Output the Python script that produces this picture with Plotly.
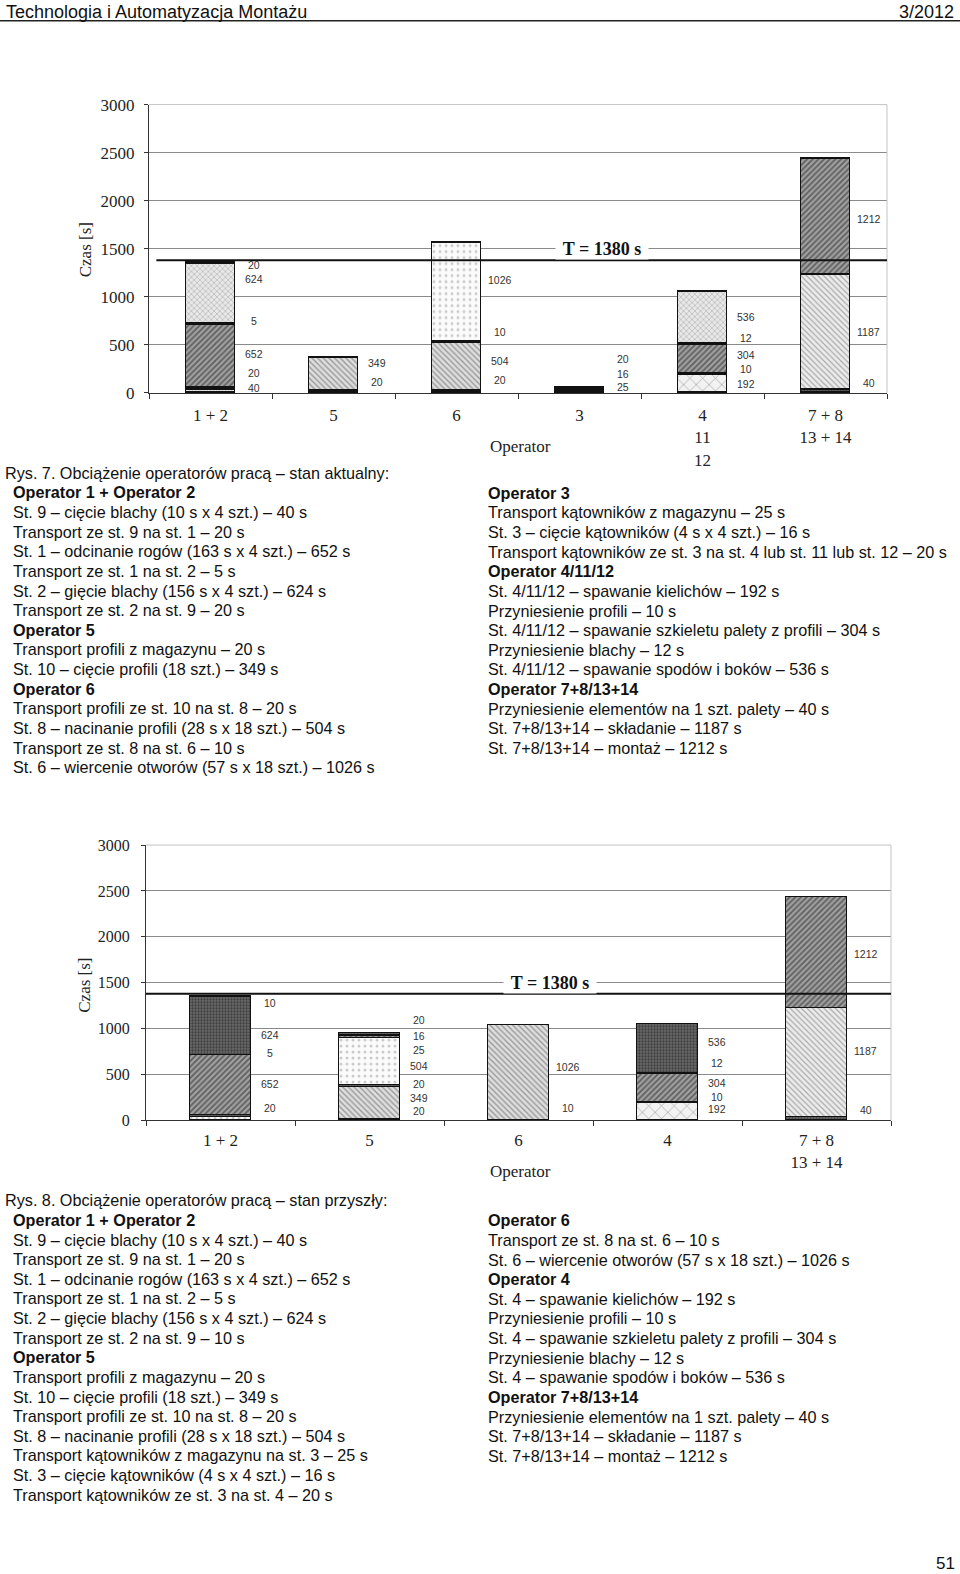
import plotly.graph_objects as go

W, H = 960, 1574
# the photographed page shows vertical positions as 8.2 + 0.99 * y; layout positions below are
# given in reference-page pixels and converted through py()
Y_OFF, Y_SCALE = 8.2, 0.99

# ---------------- DATA ----------------
# Rys. 7 - stan aktualny
f7_categories = ["1 + 2", "5", "6", "3", "4<br>11<br>12", "7 + 8<br>13 + 14"]
f7_op12 = [40, 20, 652, 5, 624, 20]
f7_op5 = [20, 349]
f7_op6 = [20, 504, 10, 1026]
f7_op3 = [25, 16, 20]
f7_op4 = [192, 10, 304, 12, 536]
f7_op78 = [40, 1187, 1212]

# Rys. 8 - stan przyszły
f8_categories = ["1 + 2", "5", "6", "4", "7 + 8<br>13 + 14"]
f8_op12 = [40, 20, 652, 5, 624, 10]
f8_op5 = [20, 349, 20, 504, 25, 16, 20]
f8_op6 = [10, 1026]
f8_op4 = [192, 10, 304, 12, 536]
f8_op78 = [40, 1187, 1212]

takt_time = 1380
y_ticks = [0, 500, 1000, 1500, 2000, 2500, 3000]

# ---------------- STYLES / LABEL PLACEMENT ----------------
STYLES = {
    "black": dict(shape="", fgcolor="#111111", bgcolor="#111111", size=4, solidity=0.5),
    "dots_dark": dict(shape=".", fgcolor="#111111", bgcolor="#6a6a6a", size=3, solidity=0.45),
    "hatch_dark": dict(shape="/", fgcolor="#1e1e1e", bgcolor="#a0a0a0", size=4, solidity=0.45),
    "hatch_mid": dict(shape="\\", fgcolor="#555555", bgcolor="#dedede", size=4, solidity=0.35),
    "hatch_light": dict(shape="\\", fgcolor="#666666", bgcolor="#ececec", size=4, solidity=0.3),
    "wavy": dict(shape="x", fgcolor="#7a7a7a", bgcolor="#e8e8e8", size=4, solidity=0.3),
    "dots_light": dict(shape=".", fgcolor="#9a9a9a", bgcolor="#fbfbfb", size=6, solidity=0.2),
    "mesh": dict(shape="x", fgcolor="#555555", bgcolor="#f2f2f2", size=9, solidity=0.15),
    "grid_light": dict(shape="+", fgcolor="#888888", bgcolor="#f0f0f0", size=3, solidity=0.3),
}

f7_styles = [
    ["grid_light", "dots_dark", "hatch_dark", "black", "wavy", "dots_dark"],
    ["black", "hatch_mid"],
    ["black", "hatch_mid", "black", "dots_light"],
    ["hatch_dark", "black", "dots_dark"],
    ["mesh", "black", "hatch_dark", "black", "wavy"],
    ["dots_dark", "hatch_light", "hatch_dark"],
]
f8_styles = [
    ["dots_light", "dots_dark", "hatch_dark", "black", "dots_dark", "dots_dark"],
    ["black", "hatch_mid", "dots_dark", "dots_light", "hatch_dark", "black", "dots_dark"],
    ["black", "hatch_mid"],
    ["mesh", "black", "hatch_dark", "black", "dots_dark"],
    ["dots_dark", "hatch_light", "hatch_dark"],
]

# vertical placement of the value labels (in axis units), bottom -> top
f7_label_y = [
    [52, 208, 405, 747, 1183, 1329],
    [114, 311],
    [135, 332, 633, 1173],
    [62, 197, 353],
    [93, 249, 394, 571, 789],
    [104, 633, 1806],
]
f8_label_y = [
    [-120, 141, 402, 739, 935, 1283],
    [98, 250, 402, 598, 772, 924, 1098],
    [141, 587],
    [120, 261, 413, 630, 859],
    [109, 761, 1815],
]

SERIF = "Liberation Serif, Times New Roman, serif"
SANS = "Liberation Sans, Arial, sans-serif"


def px(x):
    return x / W


def py(y):
    return 1 - ((y - Y_OFF) / Y_SCALE) / H


fig = go.Figure()


def add_chart(cats, groups, styles, label_y, xa, ya, bar_w, lbl_dx):
    for i, (cat, vals, sty) in enumerate(zip(cats, groups, styles)):
        for v, s in zip(vals, sty):
            fig.add_trace(go.Bar(
                x=[cat], y=[v], xaxis=xa, yaxis=ya, width=bar_w,
                marker=dict(color=STYLES[s]["bgcolor"], pattern=STYLES[s],
                            line=dict(color="#111111", width=1.3)),
                showlegend=False, hoverinfo="skip"))
        for v, ly in zip(vals, label_y[i]):
            fig.add_annotation(x=i + lbl_dx, y=ly, xref=xa, yref=ya, text=str(v),
                               showarrow=False, font=dict(family=SANS, size=10.5, color="#333333"),
                               xanchor="center", yanchor="middle")


groups7 = [f7_op12, f7_op5, f7_op6, f7_op3, f7_op4, f7_op78]
groups8 = [f8_op12, f8_op5, f8_op6, f8_op4, f8_op78]
add_chart(f7_categories, groups7, f7_styles, f7_label_y, "x", "y", 0.4, 0.35)
add_chart(f8_categories, groups8, f8_styles, f8_label_y, "x2", "y2", 0.41, 0.33)

axis_common_x = dict(type="category", showline=True, linecolor="#333333", linewidth=1,
                     ticks="outside", tickson="boundaries", ticklen=5, tickcolor="#333333",
                     showgrid=False, zeroline=False,
                     tickfont=dict(family=SERIF, size=17, color="#222222"))
axis_common_y = dict(range=[0, 3000], tickvals=y_ticks, showline=True, linecolor="#333333",
                     linewidth=1, ticks="outside", ticklen=4, tickcolor="#333333",
                     showgrid=True, gridcolor="#8a8a8a", gridwidth=1, zeroline=False,
                     tickfont=dict(family=SERIF, size=17, color="#222222"))

fig.update_layout(
    width=W, height=H, margin=dict(l=0, r=0, t=0, b=0),
    paper_bgcolor="white", plot_bgcolor="white", barmode="stack", bargap=0,
    xaxis=dict(axis_common_x, domain=[px(149), px(887)], anchor="y",
               categoryorder="array", categoryarray=f7_categories,
               range=[-0.5, len(f7_categories) - 0.5], ticklabelstandoff=7),
    yaxis=dict(axis_common_y, domain=[py(393), py(104)], anchor="x",
               ticklabelstandoff=6),
    xaxis2=dict(axis_common_x, domain=[px(146), px(891)], anchor="y2",
                categoryorder="array", categoryarray=f8_categories,
                range=[-0.5, len(f8_categories) - 0.5], ticklabelstandoff=4),
    yaxis2=dict(axis_common_y, domain=[py(1122), py(846)], anchor="x2",
                ticklabelstandoff=8, tickfont=dict(family=SERIF, size=16, color="#222222")),
)

# frame details, takt line and its label for both charts
for xa, ya, x0, tx in (("x", "y", 0.01, 3.18), ("x2", "y2", 0.0, 2.21)):
    fig.add_shape(type="line", xref=f"{xa} domain", yref=f"{ya} domain",
                  x0=1, x1=1, y0=0, y1=1, line=dict(color="#c4c4c4", width=1))
    fig.add_shape(type="line", xref=f"{xa} domain", yref=f"{ya} domain",
                  x0=0, x1=1, y0=1, y1=1, line=dict(color="#c4c4c4", width=1))
    fig.add_shape(type="line", xref=f"{xa} domain", yref=ya, x0=x0, x1=1,
                  y0=takt_time, y1=takt_time, layer="above",
                  line=dict(color="#111111", width=2))
    fig.add_annotation(x=tx, y=1500, xref=xa, yref=ya, text=f"<b>T = {takt_time} s</b>",
                       showarrow=False, bgcolor="white", width=92, borderpad=0,
                       xanchor="center", yanchor="middle",
                       font=dict(family=SERIF, size=18, color="#111111"))


def paper_text(x_px, y_px, text, font, xanchor="center", angle=0):
    fig.add_annotation(x=px(x_px), y=py(y_px), xref="paper", yref="paper",
                       xanchor=xanchor, yanchor="middle", text=text, textangle=angle,
                       showarrow=False, font=font)


# axis titles
for yy_czas, yy_op in ((250, 447), (987, 1173)):
    paper_text(85, yy_czas, "Czas [s]", dict(family=SERIF, size=17, color="#222222"), angle=-90)
    paper_text(520, yy_op, "Operator", dict(family=SERIF, size=17, color="#222222"))

# header / footer
HEAD_FONT = dict(family="Liberation Sans Narrow, Arial Narrow, Liberation Sans", size=18, color="#111111")
paper_text(4, 11, "Technologia i Automatyzacja Montażu", HEAD_FONT, xanchor="left")
paper_text(956, 11, "3/2012", HEAD_FONT, xanchor="right")
fig.add_shape(type="line", xref="paper", yref="paper", x0=0, x1=1,
              y0=py(20), y1=py(20), line=dict(color="#222222", width=1.5))
paper_text(945, 1566, "51", dict(family=SANS, size=17, color="#111111"))

# ---------------- TEXT BLOCKS ----------------
B = "**"
txt7_left = [
    "Rys. 7. Obciążenie operatorów pracą – stan aktualny:",
    B + "Operator 1 + Operator 2",
    "St. 9 – cięcie blachy (10 s x 4 szt.) – 40 s",
    "Transport ze st. 9 na st. 1 – 20 s",
    "St. 1 – odcinanie rogów (163 s x 4 szt.) – 652 s",
    "Transport ze st. 1 na st. 2 – 5 s",
    "St. 2 – gięcie blachy (156 s x 4 szt.) – 624 s",
    "Transport ze st. 2 na st. 9 – 20 s",
    B + "Operator 5",
    "Transport profili z magazynu – 20 s",
    "St. 10 – cięcie profili (18 szt.) – 349 s",
    B + "Operator 6",
    "Transport profili ze st. 10 na st. 8 – 20 s",
    "St. 8 – nacinanie profili (28 s x 18 szt.) – 504 s",
    "Transport ze st. 8 na st. 6 – 10 s",
    "St. 6 – wiercenie otworów (57 s x 18 szt.) – 1026 s",
]
txt7_right = [
    B + "Operator 3",
    "Transport kątowników z magazynu – 25 s",
    "St. 3 – cięcie kątowników (4 s x 4 szt.) – 16 s",
    "Transport kątowników ze st. 3 na st. 4 lub st. 11 lub st. 12 – 20 s",
    B + "Operator 4/11/12",
    "St. 4/11/12 – spawanie kielichów – 192 s",
    "Przyniesienie profili – 10 s",
    "St. 4/11/12 – spawanie szkieletu palety z profili – 304 s",
    "Przyniesienie blachy – 12 s",
    "St. 4/11/12 – spawanie spodów i boków – 536 s",
    B + "Operator 7+8/13+14",
    "Przyniesienie elementów na 1 szt. palety – 40 s",
    "St. 7+8/13+14 – składanie – 1187 s",
    "St. 7+8/13+14 – montaż – 1212 s",
]
txt8_left = [
    "Rys. 8. Obciążenie operatorów pracą – stan przyszły:",
    B + "Operator 1 + Operator 2",
    "St. 9 – cięcie blachy (10 s x 4 szt.) – 40 s",
    "Transport ze st. 9 na st. 1 – 20 s",
    "St. 1 – odcinanie rogów (163 s x 4 szt.) – 652 s",
    "Transport ze st. 1 na st. 2 – 5 s",
    "St. 2 – gięcie blachy (156 s x 4 szt.) – 624 s",
    "Transport ze st. 2 na st. 9 – 10 s",
    B + "Operator 5",
    "Transport profili z magazynu – 20 s",
    "St. 10 – cięcie profili (18 szt.) – 349 s",
    "Transport profili ze st. 10 na st. 8 – 20 s",
    "St. 8 – nacinanie profili (28 s x 18 szt.) – 504 s",
    "Transport kątowników z magazynu na st. 3 – 25 s",
    "St. 3 – cięcie kątowników (4 s x 4 szt.) – 16 s",
    "Transport kątowników ze st. 3 na st. 4 – 20 s",
]
txt8_right = [
    B + "Operator 6",
    "Transport ze st. 8 na st. 6 – 10 s",
    "St. 6 – wiercenie otworów (57 s x 18 szt.) – 1026 s",
    B + "Operator 4",
    "St. 4 – spawanie kielichów – 192 s",
    "Przyniesienie profili – 10 s",
    "St. 4 – spawanie szkieletu palety z profili – 304 s",
    "Przyniesienie blachy – 12 s",
    "St. 4 – spawanie spodów i boków – 536 s",
    B + "Operator 7+8/13+14",
    "Przyniesienie elementów na 1 szt. palety – 40 s",
    "St. 7+8/13+14 – składanie – 1187 s",
    "St. 7+8/13+14 – montaż – 1212 s",
]

LINE_H = 19.67
BODY_FONT = dict(family=SANS, size=16.2, color="#111111")


def add_block(lines, x_px, y0_px, caption=False):
    for k, line in enumerate(lines):
        bold = line.startswith(B)
        t = line[len(B):] if bold else line
        if bold:
            t = f"<b>{t}</b>"
        x = 3 if (caption and k == 0) else x_px
        paper_text(x, y0_px + k * LINE_H, t, BODY_FONT, xanchor="left")


add_block(txt7_left, 11, 473, caption=True)
add_block(txt7_right, 486, 493)
add_block(txt8_left, 11, 1202, caption=True)
add_block(txt8_right, 486, 1222)

fig.write_html("out.html", config={"displayModeBar": False},
               post_script="document.body.style.margin='0';document.body.style.padding='0';"
                           "document.documentElement.style.margin='0';")
